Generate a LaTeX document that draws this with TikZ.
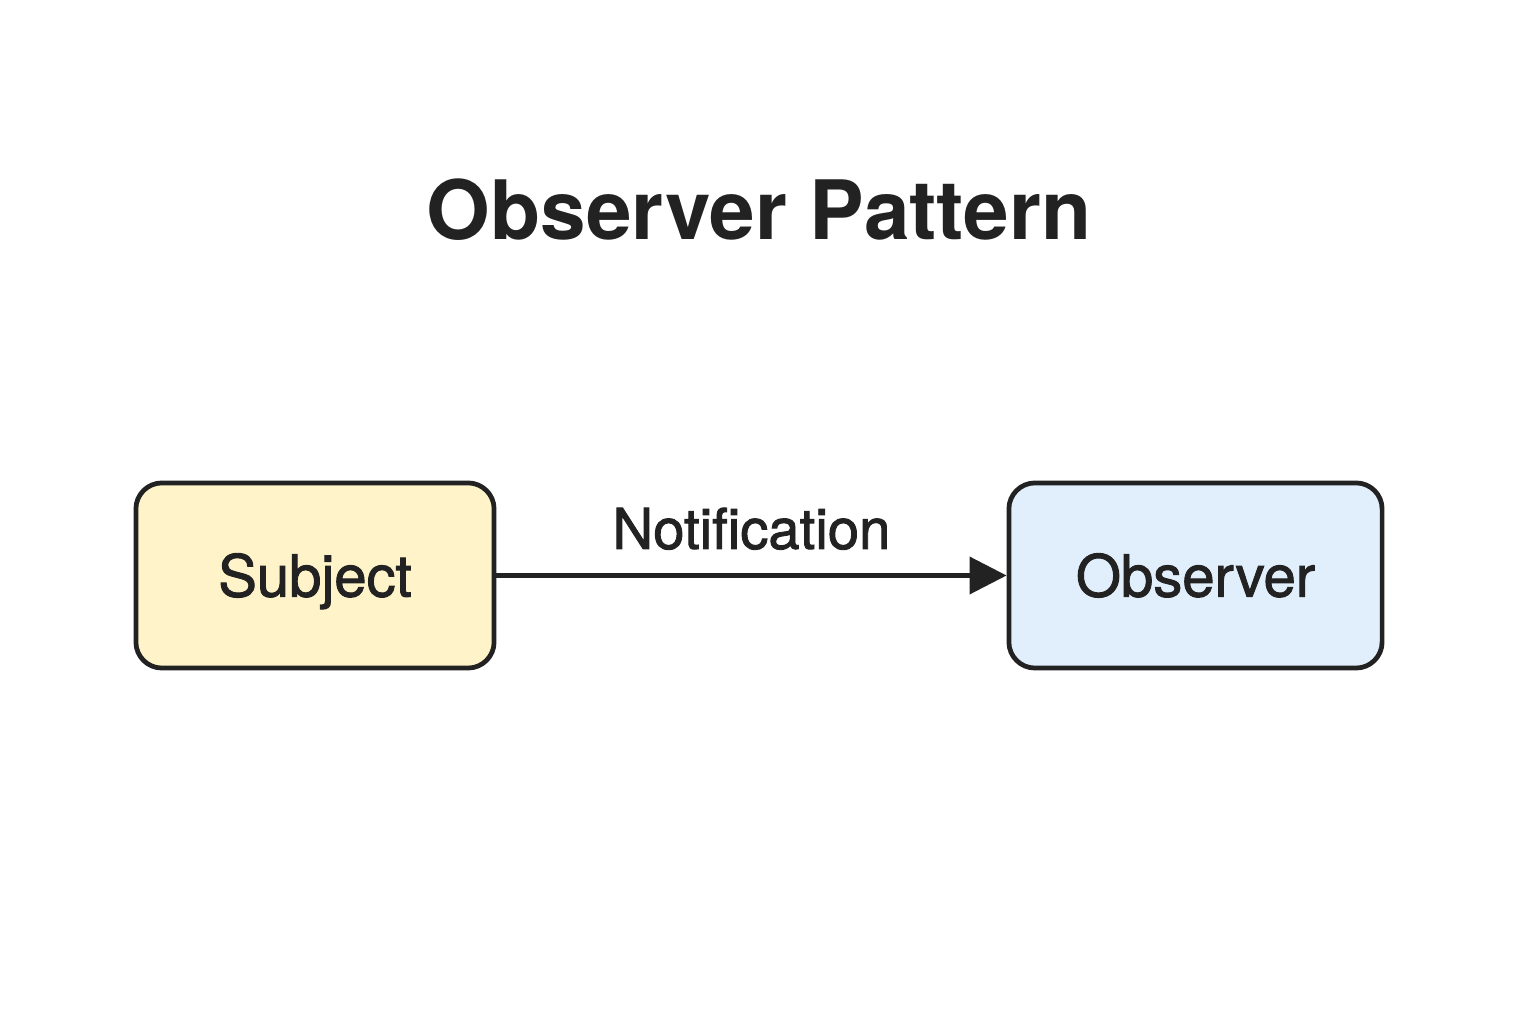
\documentclass[tikz,border=0pt]{standalone}
\usepackage{fontspec}
\setmainfont{TeX Gyre Heros}
\newfontfamily\medfont{TeX Gyre Heros}[RawFeature={embolden=1.6}]
\usetikzlibrary{arrows.meta}
\definecolor{ink}{HTML}{222222}
\definecolor{subjfill}{HTML}{FFF4C9}
\definecolor{obsfill}{HTML}{E1EEFC}
\tikzset{
  box/.style={draw=ink, line width=1.35pt, rounded corners=0.26cm, minimum height=1.85cm, text=ink, text height=12pt, text depth=0pt, font=\medfont\fontsize{16.5pt}{18pt}\selectfont},
  conn/.style={draw=ink, line width=1.15pt, -{Triangle[length=0.37cm,width=0.37cm]}},
}
\begin{document}
\begin{tikzpicture}[x=0.01cm,y=0.01cm]
\useasboundingbox (0,0) rectangle (1536,1024);
\node[font=\bfseries\fontsize{23.3pt}{26pt}\selectfont, text=ink] (title) at (759,814) {Observer Pattern};
\node[box, fill=subjfill, minimum width=3.58cm] (subject) at (315,448.5) {Subject};
\node[box, fill=obsfill, minimum width=3.73cm] (observer) at (1195.5,448.5) {Observer};
\draw[conn] (subject.east) -- (observer.west) node[midway, above=0.12cm, text=ink, font=\medfont\fontsize{16pt}{18pt}\selectfont] (lbl) {Notification};
\end{tikzpicture}
\end{document}
